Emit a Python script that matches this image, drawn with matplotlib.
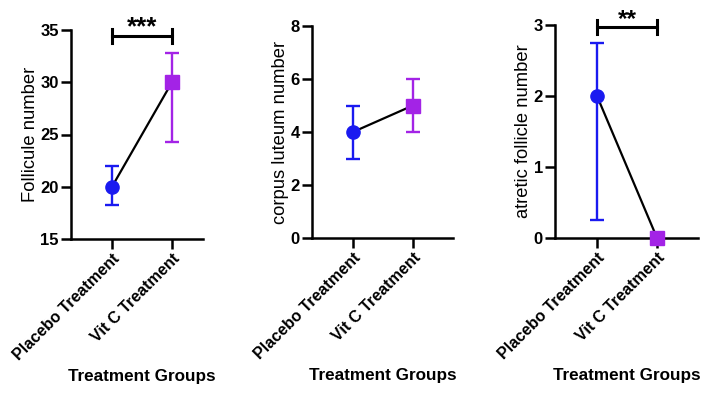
import matplotlib
matplotlib.use("Agg")
import matplotlib.pyplot as plt

plt.rcParams['font.family'] = ['Liberation Sans', 'DejaVu Sans']

groups = ["Placebo Treatment", "Vit C Treatment"]
xlabel = "Treatment Groups"

follicle_mean = [20, 30]
follicle_lo = [18.25, 24.25]
follicle_hi = [22, 32.8]

cl_mean = [4, 5]
cl_lo = [3, 4]
cl_hi = [5, 6]

atretic_mean = [2, 0]
atretic_lo = [0.25, 0]
atretic_hi = [2.75, 0]

panels = [
    dict(mean=follicle_mean, lo=follicle_lo, hi=follicle_hi, ylabel="Follicule number",
         ylim=(15, 35), yticks=[15, 20, 25, 30, 35], stars="***", bracket=34.43, starsize=18.5,
         rect=[0.1003, 0.4025, 0.1864, 0.5225], xlim=(-0.683, 1.517), xlab_x=0.534),
    dict(mean=cl_mean, lo=cl_lo, hi=cl_hi, ylabel="corpus luteum number",
         ylim=(0, 8), yticks=[0, 2, 4, 6, 8], stars=None, bracket=None, starsize=None,
         rect=[0.4407, 0.405, 0.199, 0.53], xlim=(-0.683, 1.667), xlab_x=0.5),
    dict(mean=atretic_mean, lo=atretic_lo, hi=atretic_hi, ylabel="atretic follicle number",
         ylim=(0, 3), yticks=[0, 1, 2, 3], stars="**", bracket=2.97, starsize=17.5,
         rect=[0.7839, 0.405, 0.202, 0.5325], xlim=(-0.7, 1.683), xlab_x=0.5),
]

colors = ['#1a1af0', '#a323e6']
markers = ['o', 's']

fig = plt.figure(figsize=(7.08, 4.0), dpi=100)

for p in panels:
    ax = fig.add_axes(p['rect'])
    xs = [0, 1]
    ax.plot(xs, p['mean'], color='black', lw=1.6, zorder=2)
    for i in range(2):
        m = p['mean'][i]
        err = [[m - p['lo'][i]], [p['hi'][i] - m]]
        ax.errorbar([xs[i]], [m], yerr=err, fmt=markers[i], color=colors[i],
                    ms=9.5, capsize=5, elinewidth=1.7, capthick=1.7, zorder=3,
                    clip_on=False)
    ax.set_xlim(*p['xlim'])
    ax.set_ylim(*p['ylim'])
    ax.set_yticks(p['yticks'])
    ax.set_xticks(xs)
    ax.set_xticklabels(groups, rotation=45, ha='right', rotation_mode='anchor',
                       fontsize=11.6, fontweight='bold')
    for lab in ax.get_yticklabels():
        lab.set_fontsize(12)
        lab.set_fontweight('bold')
    ax.set_ylabel(p['ylabel'], fontsize=13.2, labelpad=1)
    ax.set_xlabel(xlabel, fontsize=12.3, fontweight='bold', labelpad=4)
    ax.xaxis.label.set_x(p['xlab_x'])
    for s in ['top', 'right']:
        ax.spines[s].set_visible(False)
    for s in ['left', 'bottom']:
        ax.spines[s].set_linewidth(1.8)
    ax.tick_params(width=1.8, length=7, pad=1.8)
    if p['bracket'] is not None:
        ylo, yhi = p['ylim']
        rng = yhi - ylo
        yb = p['bracket']
        d = 0.033 * rng
        ax.plot([0, 1], [yb, yb], color='black', lw=2.2, clip_on=False)
        ax.plot([0, 0], [yb - d, yb + d], color='black', lw=2.2, clip_on=False)
        ax.plot([1, 1], [yb - d, yb + d], color='black', lw=2.2, clip_on=False)
        ax.annotate(p['stars'], xy=(0.5, yb), xytext=(0, -2.5), textcoords='offset points',
                    ha='center', va='bottom', fontsize=p['starsize'], fontweight='bold',
                    annotation_clip=False)

fig.savefig("out.png", dpi=100)
